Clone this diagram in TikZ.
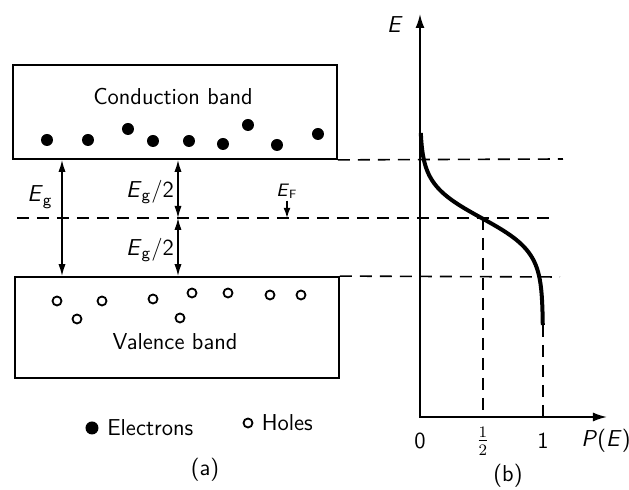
\documentclass[tikz,border=0pt]{standalone}
\usetikzlibrary{arrows.meta,positioning,calc}
\newcommand{\Eg}{\textit{E}\textsubscript{g}}
\newcommand{\EF}{\textit{E}\textsubscript{F}}
\tikzset{
  band/.style={draw,line width=0.9pt,inner sep=0pt},
  electron/.style={circle,fill,inner sep=0pt,minimum size=6pt},
  hole/.style={circle,draw,line width=0.9pt,inner sep=0pt,minimum size=4.5pt},
  lbl/.style={font=\sffamily\fontsize{11.5}{13}\selectfont,inner sep=1pt},
  level/.style={dash pattern=on 6pt off 4pt,line width=0.8pt},
  gap/.style={{Latex[length=6pt,width=3.6pt]}-{Latex[length=6pt,width=3.6pt]},line width=0.7pt},
  axis/.style={line width=0.9pt},
  fd/.style={line width=2pt},
}
\begin{document}
\begin{tikzpicture}[x=0.5pt,y=-0.5pt]
\useasboundingbox (0,0) rectangle (629,490);

% (a) the bands
\node[band,minimum width=162pt,minimum height=47pt] (cb) at (175,112) {};
\node[band,minimum width=162pt,minimum height=50.5pt] (vb) at (177,327.5) {};
\node[lbl] (cbtxt) at (173,97) {Conduction band};
\node[lbl] (vbtxt) at (175,342) {Valence band};

\node[electron] (e1) at (47,140) {};
\node[electron] (e2) at (88,140) {};
\node[electron] (e3) at (128,129) {};
\node[electron] (e4) at (153,141) {};
\node[electron] (e5) at (189,141) {};
\node[electron] (e6) at (223,144) {};
\node[electron] (e7) at (248,125) {};
\node[electron] (e8) at (277,145) {};
\node[electron] (e9) at (318,134) {};

\node[hole] (h1) at (57,301) {};
\node[hole] (h2) at (77,319) {};
\node[hole] (h3) at (102,301) {};
\node[hole] (h4) at (153,299) {};
\node[hole] (h5) at (180,318) {};
\node[hole] (h6) at (192,293) {};
\node[hole] (h7) at (228,293) {};
\node[hole] (h8) at (270,295) {};
\node[hole] (h9) at (301,295) {};

% energy levels
\coordinate (fl) at (17,218);
\coordinate (fr) at (555,218);
\coordinate (ct) at (563,159);
\coordinate (vt) at (560,277);
\draw[level] (fl) -- (fr);
\draw[level] (cb.south east) -- (ct);
\draw[level] (vb.north east) -- (vt);

\coordinate (g1) at (62,0);
\coordinate (g2) at (178,0);
\draw[gap] (cb.south -| g1) -- (vb.north -| g1);
\draw[gap] (cb.south -| g2) -- (fl -| g2);
\draw[gap] (fl -| g2) -- (vb.north -| g2);
\node[lbl] (eg) at (40,197) {\Eg};
\node[lbl] (eg2a) at (150,192) {\Eg/2};
\node[lbl] (eg2b) at (150,250) {\Eg/2};
\node[lbl,font=\sffamily\small] (ef) at (287,191) {\EF};
\draw[-{Latex[length=5pt,width=3.4pt]},line width=0.7pt] (ef.south) -- (ef.south |- fl);

% legend
\node[electron,minimum size=6.5pt] (le) at (92,428) {};
\node[lbl,right=3pt of le] (letxt) {Electrons};
\node[hole] (lh) at (248,423) {};
\node[lbl,right=3pt of lh] (lhtxt) {Holes};
\node[lbl] (capa) at (205,470) {(a)};

% (b) occupation probability
\coordinate (O) at (420,417);
\coordinate (Etip) at (420,14);
\coordinate (Ptip) at (607,417);
\draw[axis,{Latex[length=7pt,width=4.5pt]}-{Latex[length=7pt,width=4.5pt]}] (Etip) -- (O) -- (Ptip);
\node[lbl] (elab) at (395,25) {\textit{E}};
\node[lbl] (plab) at (606,441) {\textit{P}(\textit{E})};
\node[lbl] (t0) at (420,441) {0};
\node[lbl] (th) at (483,441) {$\frac{1}{2}$};
\node[lbl] (t1) at (543,441) {1};
\node[lbl] (capb) at (508,476) {(b)};

\coordinate (half) at (483,218);
\coordinate (one) at (543,325);
\draw[level] (half) -- (half |- O);
\draw[level] (one) -- (one |- O);
\draw[fd] plot[domain=133:325,samples=80] ({420+123/(1+exp((218-\x)/17))},\x);
\end{tikzpicture}
\end{document}
